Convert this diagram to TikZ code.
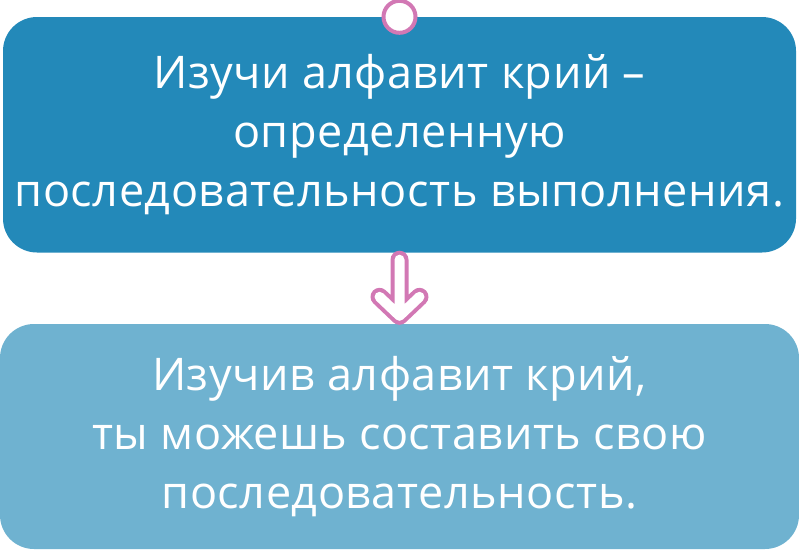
\documentclass[tikz,border=0pt]{standalone}
\usepackage{fontspec}
\setmainfont[LetterSpace=1.2]{Open Sans}
\usepackage{xcolor}
\usepackage{tikz}

\definecolor{deepblue}{RGB}{35,137,185}
\definecolor{paleblue}{RGB}{111,178,208}
\definecolor{rose}{RGB}{210,120,180}

\begin{document}
\begin{tikzpicture}[
  x = 1pt, y = -1pt,
  every node/.style = {text = white, align = center,
    font = \fontsize{45}{59}\selectfont, rounded corners = 34pt},
  box/.style = {minimum width = #1, inner sep = 0pt},
  ring/.style = {circle, draw = rose, fill = white, line width = 4pt,
    minimum size = 32pt, inner sep = 0pt}
  ]
  \useasboundingbox (0,0) rectangle (799,549);
  \node[box = 793pt, minimum height = 235.5pt, fill = deepblue] (rule) at (399.5,134.75)
    {Изучи алфавит крий –\\ определенную\\ последовательность выполнения.};
  \node[box = 799pt, minimum height = 225pt, fill = paleblue] (result) at (399.5,436.5)
    {Изучив алфавит крий,\\ ты можешь составить свою\\ последовательность.};
  \node[ring] (start) at (rule.north) {};
  \coordinate (tail) at ([yshift=-7pt]rule.south);
  \coordinate (tip) at ([yshift=8pt]result.north);
  \foreach \w/\c in {18pt/rose, 10pt/white}
    \draw[line width = \w, draw = \c, line cap = round, line join = round]
      (tail) -- (tip) ([shift={(-20pt,19pt)}]tip) -- (tip) -- ([shift={(20pt,19pt)}]tip);
\end{tikzpicture}
\end{document}
